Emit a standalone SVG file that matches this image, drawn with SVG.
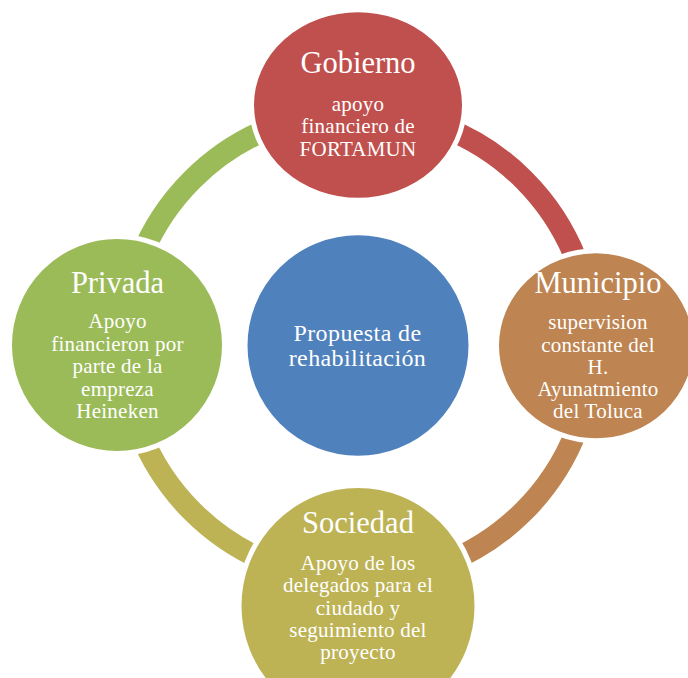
<svg xmlns="http://www.w3.org/2000/svg" width="688" height="678" viewBox="0 0 688 678">
<style>
.arc{fill:none;stroke-width:22;stroke-linecap:butt}
.node{stroke:#ffffff;stroke-width:5}
text{font-family:"Liberation Serif","Times New Roman",serif;fill:#ffffff;text-anchor:middle}
.t{font-size:30.5px}
.b{font-size:21px;letter-spacing:0.25px}
.c{font-size:24px;letter-spacing:0.4px}
</style>
<rect x="0" y="0" width="688" height="678" fill="#ffffff"/>
<g id="connectors">
<path class="arc" stroke="#9BBB59" d="M123.5 345.5 A234.5 234.5 0 0 1 358 111"/>
<path class="arc" stroke="#C0504D" d="M358 111 A234.5 234.5 0 0 1 592.5 345.5"/>
<path class="arc" stroke="#BE8451" d="M592.5 345.5 A234.5 234.5 0 0 1 358 580"/>
<path class="arc" stroke="#BDB355" d="M358 580 A234.5 234.5 0 0 1 123.5 345.5"/>
</g>
<g id="center">
<ellipse class="node" cx="358" cy="345.5" rx="113" ry="112.8" fill="#4F81BD"/>
<text class="c" x="357.5" y="340.5">Propuesta de</text>
<text class="c" x="357.5" y="365.5">rehabilitación</text>
</g>
<g id="gobierno">
<ellipse class="node" cx="358" cy="105" rx="106.5" ry="95.2" fill="#C0504D"/>
<text class="t" x="358" y="73.3">Gobierno</text>
<text class="b" x="358" y="110.8">apoyo</text>
<text class="b" x="358" y="133.3">financiero de</text>
<text class="b" x="358" y="155.6">FORTAMUN</text>
</g>
<g id="municipio">
<ellipse class="node" cx="596" cy="345.8" rx="99.5" ry="95" fill="#BE8451"/>
<text class="t" x="598" y="292.7">Municipio</text>
<text class="b" x="598" y="329">supervision</text>
<text class="b" x="598" y="351.5">constante del</text>
<text class="b" x="598" y="373.5">H.</text>
<text class="b" x="598" y="395.7">Ayunatmiento</text>
<text class="b" x="598" y="418.3">del Toluca</text>
</g>
<g id="sociedad">
<ellipse class="node" cx="358" cy="606" rx="119" ry="120.5" fill="#BDB355"/>
<text class="t" x="358" y="532.7">Sociedad</text>
<text class="b" x="358" y="570">Apoyo de los</text>
<text class="b" x="358" y="592.3">delegados para el</text>
<text class="b" x="358" y="615">ciudado y</text>
<text class="b" x="358" y="637.3">seguimiento del</text>
<text class="b" x="358" y="659.3">proyecto</text>
</g>
<g id="privada">
<ellipse class="node" cx="117" cy="345" rx="107.5" ry="108.5" fill="#9BBB59"/>
<text class="t" x="117.5" y="292.7">Privada</text>
<text class="b" x="117.5" y="328.3">Apoyo</text>
<text class="b" x="117.5" y="351">financieron por</text>
<text class="b" x="117.5" y="373.3">parte de la</text>
<text class="b" x="117.5" y="395.7">empreza</text>
<text class="b" x="117.5" y="418.3">Heineken</text>
</g>
</svg>
